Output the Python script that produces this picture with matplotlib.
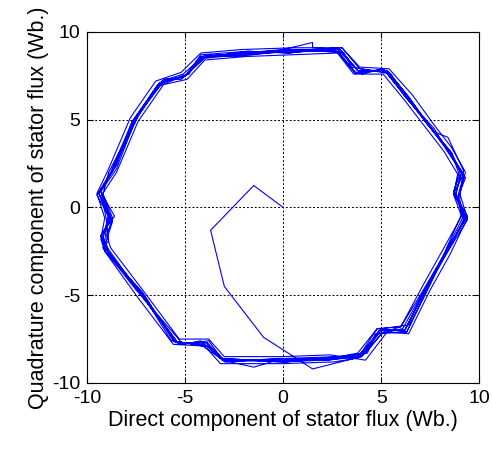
import matplotlib
matplotlib.use('Agg')
import matplotlib.pyplot as plt
import numpy as np

plt.rcParams['font.family'] = ['Liberation Sans', 'DejaVu Sans']
plt.rcParams['axes.unicode_minus'] = False

# start-up transient from the origin
start_d = [0.0, -1.5, -3.7, -3.0, -1.0, 0.4, 1.5]
start_q = [0.0, 1.25, -1.3, -4.5, -7.4, -8.4, -9.2]

# steady-state loops (counter-clockwise)
loop1_d = [4.0, 4.9, 6.2, 7.3, 8.3, 9.3, 8.8, 9.1, 8.4, 7.5, 6.4, 5.3, 3.8, 2.9, 0.5, -2.0, -4.1, -5.0, -6.3, -7.6, -8.7, -9.4, -8.9, -9.2, -9.0, -7.3, -5.4, -3.9, -3.1, 0.0, 2.5]
loop1_q = [-8.5, -7.0, -7.0, -4.6, -2.6, -0.6, 0.8, 1.95, 3.3, 4.6, 6.3, 7.8, 7.8, 9.0, 8.9, 8.8, 8.6, 7.5, 7.1, 5.0, 2.1, 0.8, -0.6, -1.7, -2.4, -4.9, -7.7, -7.7, -8.7, -8.7, -8.6]

loop2_d = [4.2, 5.1, 6.0, 7.1, 8.1, 9.1, 8.9, 9.2, 8.2, 7.6, 6.2, 5.1, 3.6, 2.7, 0.8, -2.2, -4.0, -5.1, -6.1, -7.4, -8.6, -9.3, -8.9, -9.1, -8.9, -7.1, -5.6, -4.1, -3.2, 0.2, 2.7]
loop2_q = [-8.3, -7.1, -6.8, -4.8, -2.9, -0.4, 0.6, 1.8, 3.5, 4.4, 6.4, 7.9, 7.6, 8.9, 9.0, 8.7, 8.5, 7.4, 7.3, 5.2, 2.3, 1.0, -0.4, -1.9, -2.6, -5.0, -7.6, -7.9, -8.6, -8.8, -8.5]

loop3_d = [3.8, 4.8, 6.3, 7.4, 8.4, 9.4, 8.7, 9.0, 8.6, 7.3, 6.5, 5.4, 3.9, 3.0, 0.3, -1.8, -4.2, -4.9, -6.4, -7.7, -8.8, -9.5, -8.8, -9.3, -9.1, -7.4, -5.3, -3.8, -3.0, -0.2, 2.3]
loop3_q = [-8.6, -6.9, -7.1, -4.5, -2.5, -0.7, 0.9, 2.1, 3.1, 4.8, 6.1, 7.7, 7.9, 9.1, 8.8, 8.9, 8.7, 7.6, 7.0, 4.9, 2.0, 0.7, -0.7, -1.6, -2.3, -4.7, -7.8, -7.6, -8.8, -8.6, -8.7]

loop4_d = [4.1, 5.0, 6.1, 7.2, 8.2, 9.2, 8.9, 9.3, 8.3, 7.7, 6.3, 5.2, 3.7, 2.8, 0.6, -2.1, -4.1, -5.1, -6.2, -7.5, -8.5, -9.3, -8.7, -9.0, -9.1, -7.2, -5.5, -4.0, -3.1, 0.1, 2.6]
loop4_q = [-8.4, -7.2, -6.9, -4.7, -2.7, -0.5, 0.5, 1.7, 3.4, 4.5, 6.2, 7.8, 7.7, 8.9, 8.9, 8.7, 8.6, 7.6, 7.2, 5.1, 2.2, 0.9, -0.8, -1.8, -2.5, -4.8, -7.7, -7.8, -8.7, -8.8, -8.6]

loop5_d = [3.9, 4.9, 6.2, 7.3, 8.3, 9.3, 8.8, 9.1, 8.5, 7.4, 6.4, 5.3, 3.8, 2.9, 0.4, -1.9, -4.2, -5.0, -6.3, -7.6, -8.7, -9.4, -8.9, -9.2, -8.9, -7.3, -5.4, -3.9, -3.0, 0.0, 2.4]
loop5_q = [-8.5, -7.0, -7.0, -4.6, -2.6, -0.6, 0.7, 2.0, 3.2, 4.7, 6.3, 7.8, 7.8, 9.0, 9.0, 8.8, 8.6, 7.5, 7.1, 5.0, 2.1, 0.8, -0.5, -1.7, -2.4, -4.9, -7.7, -7.7, -8.7, -8.7, -8.6]

loop6_d = [3.8, 4.8, 6.0, 7.1, 8.1, 9.1, 8.7, 8.9, 8.2, 7.3, 6.2, 5.1, 3.7, 2.8, 0.4, -1.9, -4.0, -4.9, -6.1, -7.4, -8.5, -9.2, -8.7, -9.0, -8.8, -7.1, -5.3, -3.8, -3.0, 0.0, 2.4]
loop6_q = [-8.3, -6.9, -6.8, -4.5, -2.5, -0.5, 0.7, 1.9, 3.2, 4.5, 6.1, 7.6, 7.6, 8.8, 8.7, 8.6, 8.4, 7.3, 7.0, 4.9, 2.0, 0.8, -0.6, -1.6, -2.3, -4.8, -7.5, -7.5, -8.5, -8.5, -8.4]

loop7_d = [4.2, 5.3, 6.4, 7.5, 8.5, 9.4, 9.0, 9.3, 8.6, 7.7, 6.6, 5.4, 3.9, 3.0, 0.6, -2.1, -4.2, -5.2, -6.5, -7.8, -8.9, -9.5, -9.1, -9.3, -9.1, -7.5, -5.6, -4.0, -3.2, 0.0, 2.6]
loop7_q = [-8.7, -7.1, -7.2, -4.7, -2.7, -0.6, 0.8, 2.0, 3.4, 4.7, 6.4, 7.9, 8.0, 9.1, 9.1, 9.0, 8.8, 7.7, 7.2, 5.1, 2.2, 0.8, -0.6, -1.8, -2.5, -5.0, -7.8, -7.9, -8.9, -8.9, -8.8]

loop8_d = [3.7, 5.1, 6.4, 7.1, 8.5, 9.2, 9.0, 9.2, 8.4, 7.7, 6.1, 5.5, 3.5, 3.1, 0.9, -2.4, -3.9, -5.2, -6.0, -7.7, -8.5, -9.3, -9.0, -8.9, -9.2, -7.5, -5.1, -4.2, -2.9, 0.2, 2.8]
loop8_q = [-8.6, -6.9, -6.7, -4.9, -2.3, -0.7, 0.5, 2.1, 4.0, 4.3, 6.5, 7.6, 8.0, 8.8, 9.0, 8.6, 8.7, 7.3, 7.3, 4.9, 2.4, 1.0, -0.8, -1.9, -2.3, -4.7, -7.8, -7.6, -8.8, -8.6, -8.5]

loop9_d = [4.3, 4.7, 6.3, 7.5, 8.1, 9.4, 8.7, 9.0, 8.6, 7.3, 6.5, 5.1, 4.0, 2.7, 0.3, -1.8, -4.3, -4.8, -6.4, -7.4, -8.9, -9.2, -8.6, -9.3, -8.9, -7.1, -5.7, -3.8, -3.2, -0.2, 2.2]
loop9_q = [-8.3, -7.2, -7.1, -4.4, -2.9, -0.5, 0.9, 1.8, 3.1, 4.9, 6.0, 7.9, 7.6, 9.1, 8.8, 8.9, 8.5, 7.6, 6.9, 5.2, 2.0, 0.7, -0.5, -1.6, -2.6, -5.1, -7.6, -7.9, -8.6, -8.8, -8.7]

loop10_d = [4.0, 5.0, 6.2, 7.3, 8.3, 9.3, 8.7, 9.2, 8.4, 7.5, 6.3, 5.3, 3.8, 2.9, 1.5, 1.5, 0.0, -2.0, -4.1, -5.0, -6.3, -7.6, -8.7, -9.4, -8.8, -9.2, -9.0, -7.3, -5.4, -3.9, -3.1, -1.5, 0.0]
loop10_q = [-8.5, -7.0, -7.0, -4.6, -2.6, -0.6, 0.8, 1.9, 3.3, 4.6, 6.3, 7.8, 7.8, 9.0, 9.1, 9.4, 9.0, 8.8, 8.6, 7.5, 7.1, 5.0, 2.1, 0.8, -0.6, -1.7, -2.4, -4.9, -7.7, -7.7, -8.7, -9.1, -8.6]

flux_d = np.concatenate([start_d, loop1_d, loop2_d, loop3_d, loop4_d, loop5_d,
                         loop6_d, loop7_d, loop8_d, loop9_d, loop10_d])
flux_q = np.concatenate([start_q, loop1_q, loop2_q, loop3_q, loop4_q, loop5_q,
                         loop6_q, loop7_q, loop8_q, loop9_q, loop10_q])

fig = plt.figure(figsize=(4.92, 4.5), dpi=100)
ax = fig.add_axes([0.177, 0.149, 0.797, 0.78])

ax.plot(flux_d, flux_q, color='#0000ff', lw=0.8)

ax.set_xlim(-10, 10)
ax.set_ylim(-10, 10)
ax.set_xticks([-10, -5, 0, 5, 10])
ax.set_yticks([-10, -5, 0, 5, 10])
ax.grid(True, color='black', linestyle=(0, (2, 2)), lw=0.7)
ax.tick_params(direction='in', top=True, right=True, length=4, labelsize=14)
ax.tick_params(axis='x', pad=5)
ax.tick_params(axis='y', pad=5)
for s in ax.spines.values():
    s.set_linewidth(0.8)

ax.set_xlabel('Direct component of stator flux (Wb.)', fontsize=15.5, labelpad=2)
ax.set_ylabel('Quadrature component of stator flux (Wb.)', fontsize=15.5, labelpad=2)

fig.savefig('out.png', dpi=100)
